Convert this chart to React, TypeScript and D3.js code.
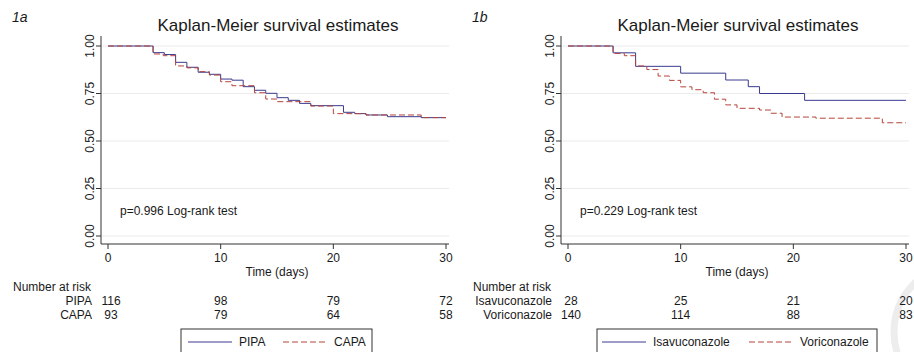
import React from 'react';
import * as d3 from 'd3';

// risk-table time points and axis ticks
const riskTimes = [0, 10, 20, 30];
const yTicks = [0, 0.25, 0.5, 0.75, 1];

// 1a: PIPA vs CAPA
const pipaT = [0, 4, 5, 6, 7, 8, 9, 10, 11, 12, 13, 14, 15, 16, 17, 18, 20.9, 21.9, 22.9, 24.8, 27.8, 30];
const pipaS = [1, 0.965, 0.955, 0.914, 0.888, 0.862, 0.851, 0.826, 0.82, 0.786, 0.767, 0.751, 0.728, 0.714, 0.698, 0.686, 0.651, 0.644, 0.637, 0.628, 0.623, 0.623];
const capaT = [0, 4, 4.9, 6, 7, 8, 9, 10, 11, 13, 14, 15, 18, 20, 22.9, 27.8, 30];
const capaS = [1, 0.958, 0.949, 0.895, 0.885, 0.865, 0.847, 0.812, 0.791, 0.754, 0.721, 0.707, 0.684, 0.644, 0.637, 0.623, 0.623];
const pipaRisk = [116, 98, 79, 72];
const capaRisk = [93, 79, 64, 58];

// 1b: Isavuconazole vs Voriconazole
const isaT = [0, 4, 6, 10, 14, 16, 17, 21, 30];
const isaS = [1, 0.964, 0.893, 0.857, 0.821, 0.786, 0.75, 0.714, 0.714];
const voriT = [0, 4, 5, 6, 7, 8, 9, 10, 11, 12, 13, 14, 15, 17, 18, 19, 22, 27.9, 30];
const voriS = [1, 0.961, 0.949, 0.895, 0.876, 0.842, 0.819, 0.785, 0.77, 0.754, 0.72, 0.69, 0.672, 0.663, 0.646, 0.626, 0.62, 0.596, 0.596];
const isaRisk = [28, 25, 21, 20];
const voriRisk = [140, 114, 88, 83];

const BLUE = '#3a3a8e';
const RED = '#b5443a';
const FONT = '"Liberation Sans", Arial, sans-serif';

interface Group {
  name: string;
  t: number[];
  s: number[];
  risk: number[];
  color: string;
  dash?: string;
}

interface PanelProps {
  ox: number; // y-axis position
  tag: string;
  pText: string;
  groups: Group[];
  legendX: number;
  legendW: number;
  legendItems: number[]; // x offsets of items inside legend
}

const Panel: React.FC<PanelProps> = ({ ox, tag, pText, groups, legendX, legendW, legendItems }) => {
  const x = d3.scaleLinear().domain([0, 30]).range([ox + 7, ox + 345]);
  const y = d3.scaleLinear().domain([0, 1]).range([236, 46]);
  const right = ox + 348;
  const axisY = 244;

  const line = d3.line<[number, number]>()
    .x(d => x(d[0]))
    .y(d => y(d[1]))
    .curve(d3.curveStepAfter);

  return (
    <g fontFamily={FONT} fill="#1a1a1a">
      <text x={ox - 89} y={22} fontSize={14} fontStyle="italic">{tag}</text>
      <text x={(ox + right) / 2 + 3} y={31} fontSize={17} textAnchor="middle">Kaplan-Meier survival estimates</text>

      {yTicks.map(v => (
        <g key={v}>
          <line x1={ox} x2={right} y1={y(v)} y2={y(v)} stroke="#ebebeb" strokeWidth={1} />
          <line x1={ox - 5} x2={ox} y1={y(v)} y2={y(v)} stroke="#333" />
          <text transform={`translate(${ox - 7},${y(v)}) rotate(-90)`} textAnchor="middle" fontSize={12}>{d3.format('.2f')(v)}</text>
        </g>
      ))}

      <line x1={ox} x2={ox} y1={36} y2={axisY} stroke="#333" />
      <line x1={ox} x2={right} y1={axisY} y2={axisY} stroke="#333" />
      {riskTimes.map(t => (
        <g key={t}>
          <line x1={x(t)} x2={x(t)} y1={axisY} y2={axisY + 5} stroke="#333" />
          <text x={x(t)} y={262} fontSize={12} textAnchor="middle">{t}</text>
        </g>
      ))}
      <text x={x(15)} y={276} fontSize={12} textAnchor="middle">Time (days)</text>

      <text x={ox + 19} y={215} fontSize={12}>{pText}</text>

      {groups.map(g => (
        <path key={g.name} d={line(g.t.map((t, i) => [t, g.s[i]] as [number, number])) || ''}
          fill="none" stroke={g.color} strokeWidth={1} strokeDasharray={g.dash} />
      ))}

      <text x={ox - 88} y={291} fontSize={12}>Number at risk</text>
      {groups.map((g, gi) => (
        <g key={g.name}>
          <text x={ox - 9} y={305 + gi * 14} fontSize={12} textAnchor="end">{g.name}</text>
          {g.risk.map((r, i) => (
            <text key={i} x={x(riskTimes[i]) + (i === 0 ? 3 : 0)} y={305 + gi * 14} fontSize={12} textAnchor="middle">{r}</text>
          ))}
        </g>
      ))}

      <rect x={legendX} y={329} width={legendW} height={40} fill="#fff" stroke="#333" strokeWidth={1} />
      {groups.map((g, gi) => (
        <g key={g.name}>
          <line x1={legendX + legendItems[gi]} x2={legendX + legendItems[gi] + 44} y1={342} y2={342}
            stroke={g.color} strokeWidth={1} strokeDasharray={g.dash} />
          <text x={legendX + legendItems[gi] + 51} y={346} fontSize={12}>{g.name}</text>
        </g>
      ))}
    </g>
  );
};

export default function App() {
  return (
    <svg width={914} height={352} style={{ position: 'absolute', left: 0, top: 0, background: '#fff' }}>
      <circle cx={962} cy={332} r={68} fill="none" stroke="#ededed" strokeWidth={7} />
      <Panel ox={101} tag="1a" pText="p=0.996 Log-rank test" legendX={181} legendW={191} legendItems={[7, 102]}
        groups={[
          { name: 'PIPA', t: pipaT, s: pipaS, risk: pipaRisk, color: BLUE },
          { name: 'CAPA', t: capaT, s: capaS, risk: capaRisk, color: RED, dash: '6,3' },
        ]} />
      <Panel ox={561} tag="1b" pText="p=0.229 Log-rank test" legendX={597} legendW={280} legendItems={[5, 152]}
        groups={[
          { name: 'Isavuconazole', t: isaT, s: isaS, risk: isaRisk, color: BLUE },
          { name: 'Voriconazole', t: voriT, s: voriS, risk: voriRisk, color: RED, dash: '6,3' },
        ]} />
    </svg>
  );
}
